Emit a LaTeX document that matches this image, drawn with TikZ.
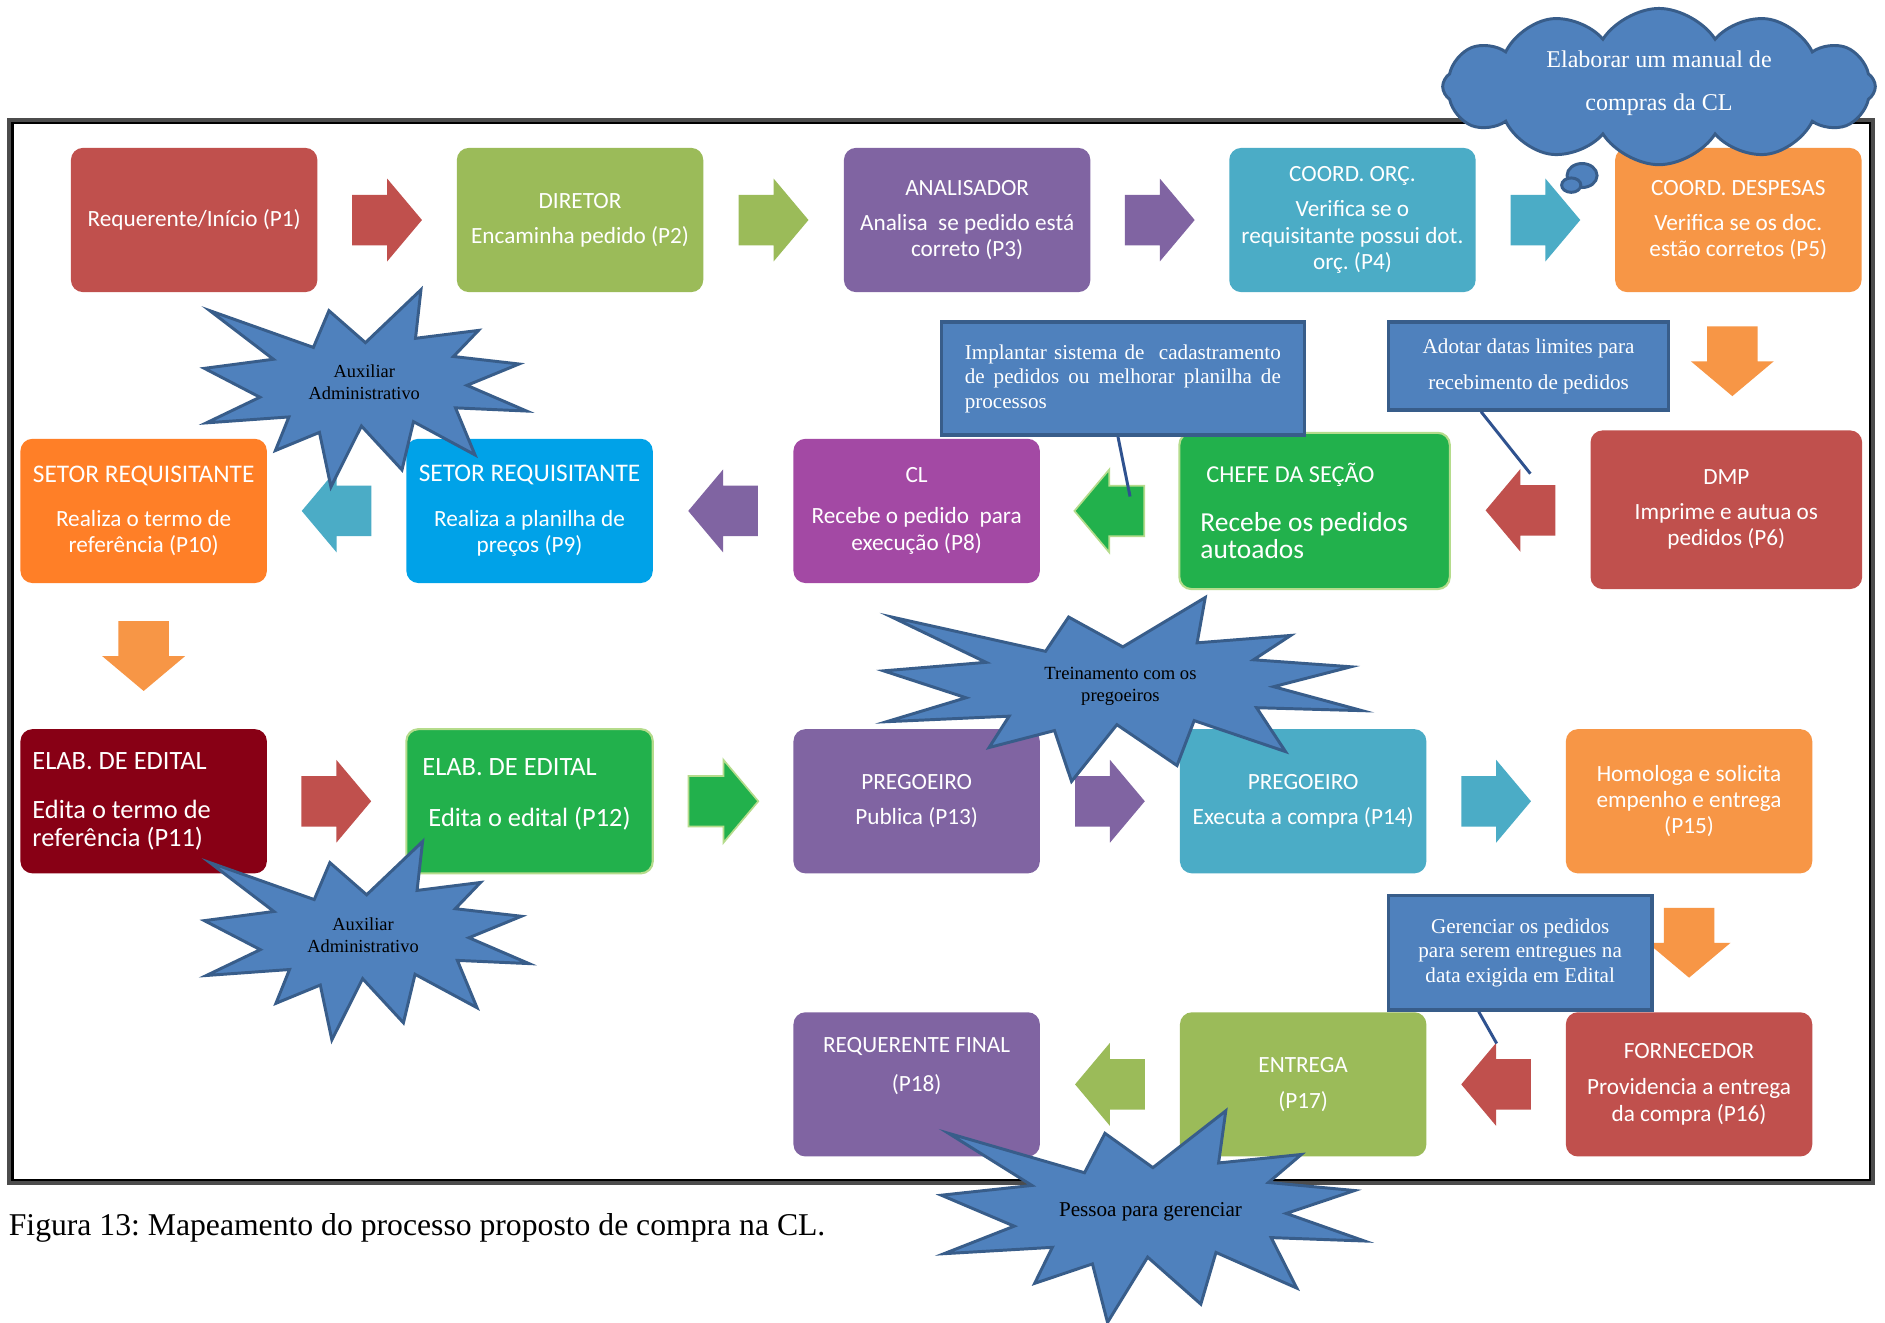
\documentclass[tikz,border=0pt]{standalone}
\usepackage{fontspec}
\setmainfont{Liberation Serif}
\newfontfamily\calibri{Carlito}
\usetikzlibrary{shapes.symbols,shapes.geometric,positioning,calc}
\frenchspacing

\definecolor{vermelho}{HTML}{C0504D}
\definecolor{verde}{HTML}{9BBB59}
\definecolor{roxo}{HTML}{8064A2}
\definecolor{turquesa}{HTML}{4BACC6}
\definecolor{laranja}{HTML}{F79646}
\definecolor{laranjavivo}{HTML}{FF7F27}
\definecolor{azulvivo}{HTML}{00A2E8}
\definecolor{violeta}{HTML}{A349A4}
\definecolor{verdevivo}{HTML}{22B14C}
\definecolor{verdeclaro}{HTML}{B5DC8C}
\definecolor{bordo}{HTML}{880015}
\definecolor{azulnota}{HTML}{4F81BD}
\definecolor{azulborda}{HTML}{385D8A}
\definecolor{azullinha}{HTML}{2F528F}

\tikzset{
 pics/seta/.style={code={
   \fill[#1] (-29,-21) -- (0,-21) -- (0,-34.5) -- (29,0) -- (0,34.5) -- (0,21) -- (-29,21) -- cycle;}},
 pics/explosao/.style 2 args={code={
   \begin{scope}[xscale=#1,yscale=#2]
   \draw[fill=azulnota,draw=azulborda,line width=1.4pt]
     (0.5000,0.2685) -- (0.6723,0) -- (0.6553,0.2465) -- (0.8509,0.2063) -- (0.7732,0.3387)
     -- (0.9767,0.3767) -- (0.8151,0.4850) -- (1,0.6153) -- (0.7795,0.5992) -- (0.8400,0.8377)
     -- (0.6491,0.6693) -- (0.6133,0.9137) -- (0.4876,0.6914) -- (0.3928,1) -- (0.3572,0.7235)
     -- (0.2205,0.8156) -- (0.2624,0.6452) -- (0.0063,0.6753) -- (0.1723,0.5451) -- (0,0.3988)
     -- (0.2142,0.3526) -- (0.0171,0.1063) -- (0.3385,0.2926) -- (0.3867,0.1063) -- cycle;
   \end{scope}}}
}

\begin{document}
\begin{tikzpicture}[x=0.02cm,y=-0.02cm,
 etapa/.style={rectangle,rounded corners=0.2cm,minimum width=4.1cm,minimum height=2.4cm,
   text=white,align=center,inner sep=2pt,font=\calibri\fontsize{11}{12.5}\selectfont},
 etapaesq/.style={etapa,align=flush left,text width=3.7cm,inner xsep=0.2cm,
   font=\calibri\fontsize{12.5}{13.2}\selectfont},
 nota/.style={rectangle,fill=azulnota,draw=azulborda,line width=1.7pt,text=white,
   align=center,inner sep=0pt},
 linhanota/.style={draw=azullinha,line width=1.4pt},
 textoexplosao/.style={align=center,inner sep=0pt,font=\fontsize{8.7}{10.2}\selectfont},
 nuvem/.style={cloud,cloud puffs=12,cloud puff arc=115,aspect=2.8,minimum width=7.2cm,
   minimum height=2.6cm,fill=azulnota,draw=azulborda,line width=1.4pt,text=white,
   align=center,inner sep=0pt,font=\fontsize{11.4}{20.5}\selectfont},
 bolha/.style={ellipse,fill=azulnota,draw=azulborda,line width=1.4pt,inner sep=0pt},
 legenda/.style={inner sep=0pt,font=\fontsize{15}{18}\selectfont}]
\fill[white] (0,0) rectangle (1568,1100);
\useasboundingbox (0,0) rectangle (1568,1100);
\draw[line width=0.07cm,black!70] (7.75,99.75) rectangle (1558.25,984.25);
\draw[line width=0.04cm,black] (10.5,102.5) rectangle (1555.5,981.5);

\node[etapa,fill=vermelho] (p1) at (161.5,183) {Requerente/Início (P1)};
\node[etapa,fill=verde] (p2) at (482.5,183) {DIRETOR\\[4pt]Encaminha pedido (P2)};
\node[etapa,fill=roxo] (p3) at (804.5,183) {ANALISADOR\\[4pt]Analisa\ \ se pedido está\\correto (P3)};
\node[etapa,fill=turquesa] (p4) at (1125,183) {COORD. ORÇ.\\[4pt]Verifica se o\\requisitante possui dot.\\orç. (P4)};
\node[etapa,fill=laranja] (p5) at (1446,183) {COORD. DESPESAS\\[4pt]Verifica se os doc.\\estão corretos (P5)};

\node[etapa,fill=vermelho,minimum width=4.52cm,minimum height=2.64cm] (p6) at (1436,424) {DMP\\[4pt]Imprime e autua os\\pedidos (P6)};
\node[etapaesq,fill=verdevivo,draw=verdeclaro,line width=1pt,minimum width=4.5cm,minimum height=2.6cm,
  text width=3.8cm,inner xsep=0.35cm,font=\calibri\fontsize{13}{13.2}\selectfont] (p7) at (1093.5,425)
  {\hspace*{0.1cm}{\fontsize{11.5}{13}\selectfont CHEFE DA SEÇÃO}\\[10pt]Recebe os pedidos\\autoados};
\node[etapa,fill=violeta] (p8) at (762.5,425) {CL\\[6.8pt]Recebe o pedido\ \ para\\execução (P8)};
\node[etapa,fill=azulvivo] (p9) at (440.5,425) {{\fontsize{12}{13}\selectfont SETOR REQUISITANTE}\\[8.5pt]Realiza a planilha de\\preços (P9)};
\node[etapa,fill=laranjavivo] (p10) at (119.5,425) {{\fontsize{12}{13}\selectfont SETOR REQUISITANTE}\\[8.5pt]Realiza o termo de\\referência (P10)};

\node[etapaesq,fill=bordo] (p11) at (119.5,666.5) {ELAB. DE EDITAL\\[10pt]Edita o termo de\\referência (P11)};
\node[etapa,fill=verdevivo,draw=verdeclaro,line width=1pt,align=flush left,text depth=0.3cm,
  font=\calibri\fontsize{12.5}{13.2}\selectfont] (p12) at (440.5,666.5) {\hspace*{-0.1cm}ELAB. DE EDITAL\\[11pt]Edita o edital (P12)};
\node[etapa,fill=roxo] (p13) at (762.5,666.5) {PREGOEIRO\\[4pt]Publica (P13)};
\node[etapa,fill=turquesa] (p14) at (1084,666.5) {PREGOEIRO\\[4pt]Executa a compra (P14)};
\node[etapa,fill=laranja,font=\calibri\fontsize{11}{12.2}\selectfont] (p15) at (1405,666.5) {Homologa e solicita\\empenho e entrega\\(P15)};

\node[etapa,fill=vermelho] (p16) at (1405,902) {FORNECEDOR\\[4.5pt]Providencia a entrega\\da compra (P16)};
\node[etapa,fill=verde] (p17) at (1084,902) {ENTREGA\\[4.5pt](P17)};
\node[etapa,fill=roxo] (p18) at (762.5,902) {REQUERENTE FINAL\\[6pt](P18)\\[6pt]~};

\pic at ($(p1.east)!.5!(p2.west)$) {seta=vermelho};
\pic at ($(p2.east)!.5!(p3.west)$) {seta=verde};
\pic at ($(p3.east)!.5!(p4.west)$) {seta=roxo};
\pic at ($(p4.east)!.5!(p5.west)$) {seta=turquesa};
\pic[rotate=-90] at ($(p5.south)!.5!(p6.north)$) {seta=laranja};
\pic[rotate=180] at ($(p6.west)!.5!(p7.east)$) {seta=vermelho};
\pic[rotate=180] at ($(p7.west)!.5!(p8.east)$) {seta={verdevivo,draw=verdeclaro,line width=0.8pt}};
\pic[rotate=180] at ($(p8.west)!.5!(p9.east)$) {seta=roxo};
\pic[rotate=180] at ($(p9.west)!.5!(p10.east)$) {seta=turquesa};
\pic[rotate=-90] at ($(p10.south)!.5!(p11.north)$) {seta=laranja};
\pic at ($(p11.east)!.5!(p12.west)$) {seta=vermelho};
\pic at ($(p12.east)!.5!(p13.west)$) {seta={verdevivo,draw=verdeclaro,line width=0.8pt}};
\pic at ($(p13.east)!.5!(p14.west)$) {seta=roxo};
\pic at ($(p14.east)!.5!(p15.west)$) {seta=turquesa};
\pic[rotate=-90] at ($(p15.south)!.5!(p16.north)$) {seta=laranja};
\pic[rotate=180] at ($(p16.west)!.5!(p17.east)$) {seta=vermelho};
\pic[rotate=180] at ($(p17.west)!.5!(p18.east)$) {seta=verde};

\node[nota,minimum width=6.04cm,minimum height=1.88cm,text width=5.26cm,align=justify,
  font=\fontsize{10}{11.7}\selectfont] (implantar) at (934,315)
  {Implantar sistema de\ \ cadastramento\linebreak de pedidos ou melhorar planilha de\linebreak processos};
\node[nota,minimum width=4.66cm,minimum height=1.46cm,font=\fontsize{10}{17}\selectfont] (adotar) at (1271.5,304.5)
  {Adotar datas limites para\\recebimento de pedidos};
\node[nota,minimum width=4.38cm,minimum height=1.9cm,font=\fontsize{10}{11.7}\selectfont] (gerenciar) at (1264.5,792.5)
  {Gerenciar os pedidos\\para serem entregues na\\data exigida em Edital};
\coordinate (pontaimpl) at (940,413);
\coordinate (pontaadotar) at (1273,394);
\coordinate (pontagerenciar) at (1245,868);
\draw[linhanota] ([xshift=-0.08cm]implantar.south) -- (pontaimpl);
\draw[linhanota] ([xshift=-0.79cm]adotar.south) -- (pontaadotar);
\draw[linhanota] ([xshift=-0.69cm]gerenciar.south) -- (pontagerenciar);

\pic at (170,241) {explosao={268}{164}};
\node[textoexplosao] (auxiliar1) at (303,318) {Auxiliar\\Administrativo};
\pic at (170,700) {explosao={270}{165}};
\node[textoexplosao] (auxiliar2) at (302,778) {Auxiliar\\Administrativo};
\pic at (735,497) {explosao={398}{153}};
\node[textoexplosao,font=\fontsize{8.8}{10.2}\selectfont] (treinamento) at (932,571) {Treinamento com os\\pregoeiros};
\pic at (783,924) {explosao={352}{176}};
\node[textoexplosao,font=\fontsize{10}{12}\selectfont] (pessoa) at (957,1008) {Pessoa para gerenciar};

\node[nuvem,text depth=0.2cm] (manual) at (1380,72) {Elaborar um manual de\\compras da CL};
\node[bolha,minimum width=0.5cm,minimum height=0.4cm] (bolha1) at (1316,146) {};
\node[bolha,minimum width=0.32cm,minimum height=0.24cm] (bolha2) at (1307,154) {};

\node[legenda,anchor=base west] (legenda) at (7,1028) {Figura 13: Mapeamento do processo proposto de compra na CL.};
\end{tikzpicture}
\end{document}
